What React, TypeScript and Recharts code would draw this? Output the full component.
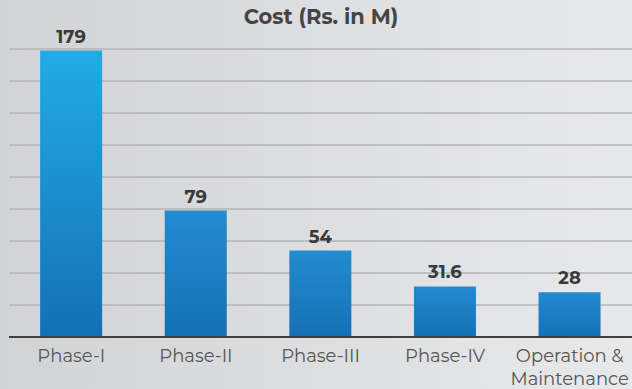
import { BarChart, Bar, XAxis, YAxis, CartesianGrid, LabelList, Cell } from 'recharts'

const phases = ['Phase-I', 'Phase-II', 'Phase-III', 'Phase-IV', 'Operation & Maintenance']
const cost = [179, 79, 54, 31.6, 28]
const yTicks = [0, 20, 40, 60, 80, 100, 120, 140, 160, 180]

const data = phases.map((name, i) => ({ name, cost: cost[i] }))

const font = "Montserrat, 'DejaVu Sans', sans-serif"

function PhaseTick(props: any) {
  const { x, y, payload } = props
  const words: string[] = payload.value === 'Operation & Maintenance' ? ['Operation &', 'Maintenance'] : [payload.value]
  return (
    <text x={x} y={y} textAnchor="middle" fill="#555" fontSize={18} fontFamily={font}>
      {words.map((w, i) => (
        <tspan key={i} x={x} dy={i === 0 ? 17 : 23}>
          {w}
        </tspan>
      ))}
    </text>
  )
}

export default function App() {
  return (
    <div
      style={{
        position: 'absolute',
        left: 0,
        top: 0,
        width: 632,
        height: 389,
        overflow: 'hidden',
        background: 'linear-gradient(90deg, #d2d3d5 0%, #dcdddf 45%, #e8e9ea 100%)',
      }}
    >
      <div
        style={{
          position: 'absolute',
          top: 4,
          left: 0,
          width: 642,
          textAlign: 'center',
          fontFamily: font,
          fontWeight: 700,
          fontSize: 21,
          color: '#444',
        }}
      >
        Cost (Rs. in M)
      </div>
      <BarChart
        width={632}
        height={389}
        data={data}
        margin={{ top: 49, right: 0, bottom: 22, left: 9 }}
        barCategoryGap="25%"
      >
        <defs>
          <linearGradient id="tall" x1="0" y1="0" x2="0" y2="1">
            <stop offset="0%" stopColor="#22abe5" />
            <stop offset="100%" stopColor="#1470b6" />
          </linearGradient>
          <linearGradient id="short" x1="0" y1="0" x2="0" y2="1">
            <stop offset="0%" stopColor="#238bd0" />
            <stop offset="100%" stopColor="#1470b6" />
          </linearGradient>
        </defs>
        <CartesianGrid vertical={false} stroke="#b4b5b7" strokeWidth={1.5} />
        <XAxis
          dataKey="name"
          axisLine={{ stroke: '#3f3f3f', strokeWidth: 2 }}
          tickLine={false}
          height={30}
          interval={0}
          tick={<PhaseTick />}
        />
        <YAxis hide domain={[0, 180]} ticks={yTicks} />
        <Bar dataKey="cost" isAnimationActive={false}>
          {data.map((d, i) => (
            <Cell key={i} fill={i === 0 ? 'url(#tall)' : 'url(#short)'} />
          ))}
          <LabelList
            dataKey="cost"
            position="top"
            offset={8}
            fill="#3a3a3a"
            fontSize={18}
            fontWeight={700}
            fontFamily={font}
          />
        </Bar>
      </BarChart>
    </div>
  )
}
